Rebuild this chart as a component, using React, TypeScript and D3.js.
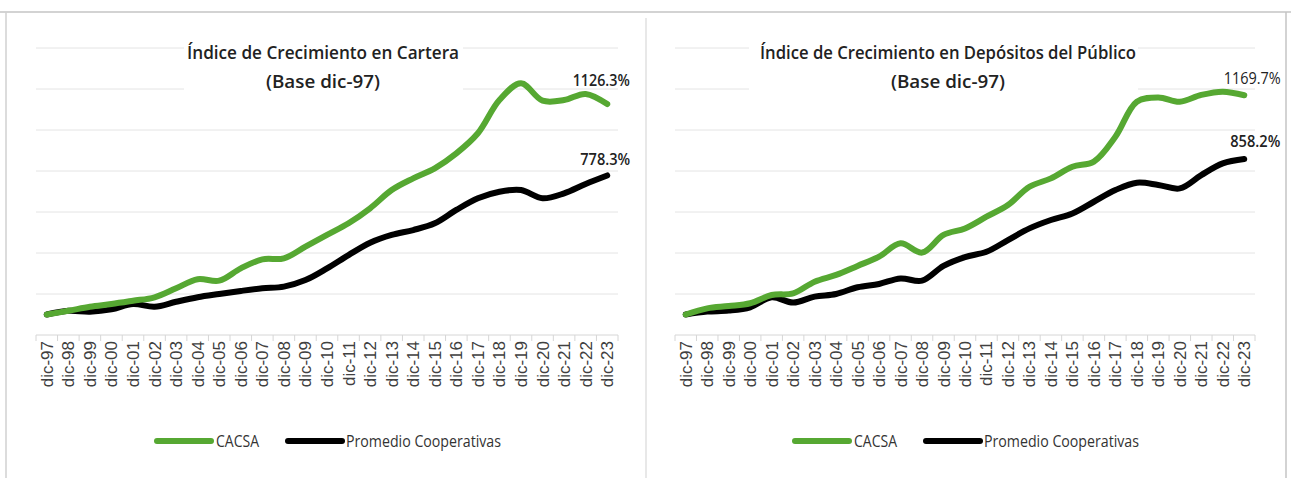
import React from "react";
import * as d3 from "d3";

const years = [
  "dic-97","dic-98","dic-99","dic-00","dic-01","dic-02","dic-03","dic-04","dic-05",
  "dic-06","dic-07","dic-08","dic-09","dic-10","dic-11","dic-12","dic-13","dic-14",
  "dic-15","dic-16","dic-17","dic-18","dic-19","dic-20","dic-21","dic-22","dic-23",
];

const carteraCACSA = [100,118,138,151,167,184,228,272,265,325,369,374,431,488,545,618,707,764,813,886,984,1146,1228,1143,1146,1176,1126.3];
const carteraPromedio = [100,118,114,125,151,138,162,184,200,215,228,236,268,325,390,450,488,512,545,610,667,699,707,667,691,737,778.3];

const depositosCACSA = [100,130,141,155,195,203,260,293,337,382,447,402,488,520,577,634,723,764,821,846,967,1138,1159,1138,1171,1187,1169.7];
const depositosPromedio = [100,114,119,135,184,158,187,200,233,249,276,265,337,380,406,463,520,561,593,650,707,743,732,715,780,837,858.2];

const yTicks = [0, 200, 400, 600, 800, 1000, 1200, 1400];
const seriesNames = ["CACSA", "Promedio Cooperativas"];

const GREEN = "#56a832";
const BLACK = "#000000";
const TITLE_FONT = "'Open Sans', 'Noto Sans', sans-serif";
const AXIS_FONT = "'Liberation Sans', Arial, sans-serif";

type Label = { text: string; dx: number; dy: number; bold: boolean; w: number };
type PanelProps = {
  x0: number;
  x1: number;
  title1: string;
  title2: string;
  titleCx: number;
  titleW: [number, number];
  titleBox: [number, number];
  green: number[];
  black: number[];
  greenLabel: Label;
  blackLabel: Label;
  legendX: number;
};

function Panel(p: PanelProps) {
  const yBase = 335;
  const yTop = 48;
  const x = d3.scaleBand<string>().domain(years).range([p.x0, p.x1]).padding(0);
  const y = d3.scaleLinear().domain([0, 1400]).range([yBase, yTop]);
  const cx = (d: string) => (x(d) as number) + x.bandwidth() / 2;
  const line = d3
    .line<number>()
    .x((_, i) => cx(years[i]))
    .y((v) => y(v))
    .curve(d3.curveCatmullRom.alpha(0.5));
  const lastX = cx(years[years.length - 1]);
  const boundaries = d3.range(years.length + 1).map((i) => p.x0 + i * x.bandwidth());
  const endLabel = (l: Label, v: number) => (
    <text
      x={lastX + l.dx}
      y={y(v) + l.dy}
      textAnchor="middle"
      fontFamily={TITLE_FONT}
      fontWeight={l.bold ? 600 : 400}
      fontSize={16}
      fill="#222"
      textLength={l.w}
      lengthAdjust="spacingAndGlyphs"
    >
      {l.text}
    </text>
  );
  return (
    <g>
      {yTicks.filter((t) => t > 0).map((t) => (
        <line key={t} x1={p.x0} x2={p.x1} y1={y(t)} y2={y(t)} stroke="#e4e4e4" strokeWidth={1} />
      ))}
      <line x1={p.x0} x2={p.x1} y1={yBase} y2={yBase} stroke="#d6d6d6" strokeWidth={1} />
      {boundaries.map((bx, i) => (
        <line key={i} x1={bx} x2={bx} y1={yBase} y2={yBase + 6} stroke="#d6d6d6" strokeWidth={1} />
      ))}
      {years.map((d) => (
        <text
          key={d}
          transform={`translate(${cx(d) + 6},${yBase + 6}) rotate(-90)`}
          textAnchor="end"
          fontFamily={AXIS_FONT}
          fontSize={17}
          fill="#404040"
        >
          {d}
        </text>
      ))}
      <rect x={p.titleBox[0]} y={32} width={p.titleBox[1] - p.titleBox[0]} height={68} fill="#fff" />
      <text x={p.titleCx} y={59} textAnchor="middle" fontFamily={TITLE_FONT} fontWeight={600} fontSize={18} fill="#222"
        textLength={p.titleW[0]} lengthAdjust="spacingAndGlyphs">
        {p.title1}
      </text>
      <text x={p.titleCx} y={88} textAnchor="middle" fontFamily={TITLE_FONT} fontWeight={600} fontSize={18} fill="#222"
        textLength={p.titleW[1]} lengthAdjust="spacingAndGlyphs">
        {p.title2}
      </text>
      <path d={line(p.black) || ""} fill="none" stroke={BLACK} strokeWidth={6} strokeLinecap="round" strokeLinejoin="round" />
      <path d={line(p.green) || ""} fill="none" stroke={GREEN} strokeWidth={6} strokeLinecap="round" strokeLinejoin="round" />
      {endLabel(p.greenLabel, p.green[p.green.length - 1])}
      {endLabel(p.blackLabel, p.black[p.black.length - 1])}
      <g transform={`translate(${p.legendX},441)`}>
        <line x1={0} x2={54} y1={0} y2={0} stroke={GREEN} strokeWidth={6} strokeLinecap="round" />
        <text x={59} y={6} fontFamily={TITLE_FONT} fontSize={16} fill="#333" textLength={43} lengthAdjust="spacingAndGlyphs">{seriesNames[0]}</text>
        <line x1={131} x2={185} y1={0} y2={0} stroke={BLACK} strokeWidth={6} strokeLinecap="round" />
        <text x={189} y={6} fontFamily={TITLE_FONT} fontSize={16} fill="#333" textLength={155} lengthAdjust="spacingAndGlyphs">{seriesNames[1]}</text>
      </g>
    </g>
  );
}

export default function App() {
  return (
    <svg
      width={1291}
      height={478}
      style={{ position: "absolute", left: 0, top: 0, background: "#fff" }}
    >
      <rect x={0} y={0} width={1291} height={478} fill="#fff" />
      <line x1={0} x2={1291} y1={12} y2={12} stroke="#c4c4c4" strokeWidth={1.5} />
      <line x1={6} x2={6} y1={12} y2={478} stroke="#d0d0d0" strokeWidth={1.5} />
      <line x1={646} x2={646} y1={18} y2={478} stroke="#e0e0e0" strokeWidth={1.5} />
      <line x1={1286} x2={1286} y1={12} y2={478} stroke="#c4c4c4" strokeWidth={1.5} />
      <Panel
        x0={36}
        x1={618}
        title1="Índice de Crecimiento en Cartera"
        title2="(Base dic-97)"
        titleCx={323}
        titleW={[272, 114]}
        titleBox={[184, 463]}
        green={carteraCACSA}
        black={carteraPromedio}
        greenLabel={{ text: "1126.3%", dx: -6, dy: -18, bold: true, w: 57 }}
        blackLabel={{ text: "778.3%", dx: -2, dy: -10, bold: true, w: 50 }}
        legendX={157}
      />
      <Panel
        x0={675}
        x1={1255}
        title1="Índice de Crecimiento en Depósitos del Público"
        title2="(Base dic-97)"
        titleCx={948}
        titleW={[376, 114]}
        titleBox={[749, 1138]}
        green={depositosCACSA}
        black={depositosPromedio}
        greenLabel={{ text: "1169.7%", dx: 8, dy: -11, bold: false, w: 57 }}
        blackLabel={{ text: "858.2%", dx: 11, dy: -12, bold: true, w: 50 }}
        legendX={795}
      />
    </svg>
  );
}
